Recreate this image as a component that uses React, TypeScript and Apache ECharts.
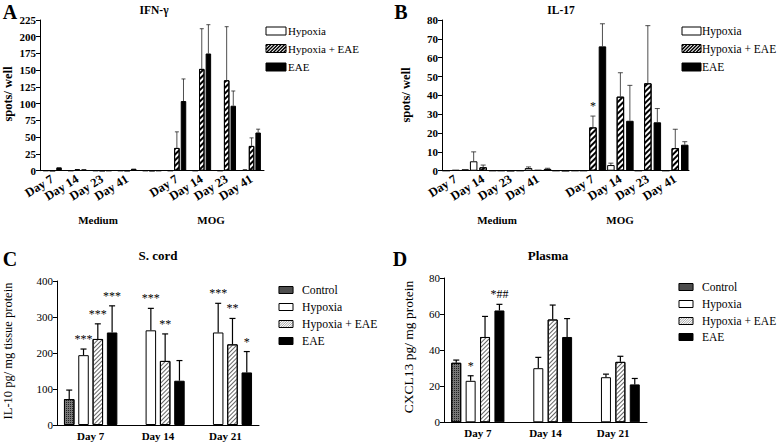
import React, { useEffect, useRef } from 'react';
import * as echarts from 'echarts';

const SERIF = 'Liberation Serif';

// ---- Panel A / B categories ----
const abCategories = ['Day 7', 'Day 14', 'Day 23', 'Day 41', '', 'Day 7', 'Day 14', 'Day 23', 'Day 41'];
const cdCategories = ['Day 7', 'Day 14', 'Day 21'];
const abLegend = ['Hypoxia', 'Hypoxia + EAE', 'EAE'];
const cdLegend = ['Control', 'Hypoxia', 'Hypoxia + EAE', 'EAE'];

// ---- Panel A: IFN-γ (spots/ well) ----
const aHypoxia = [0, 0, 0, 0, 0, 0, 0, 0, 1];
const aHypoxiaErr = [0, 0, 0, 0, 0, 0, 0, 0, 1.5];
const aHypEae = [0, 2, 0, 0, 0, 34, 152, 135, 37];
const aHypEaeErr = [0, 2, 0, 0, 0, 58, 212, 215, 49];
const aEae = [5, 2, 0, 3, 0, 104, 175, 97, 57];
const aEaeErr = [5, 2, 0, 3, 0, 137, 218, 119, 62];
const aYMax = 225;
const aYStep = 25;

// ---- Panel B: IL-17 (spots/ well) ----
const bHypoxia = [0, 5, 0, 1.4, 0, 0, 3, 0, 0];
const bHypoxiaErr = [0, 10, 0, 2, 0, 0, 4, 0, 0];
const bHypEae = [0.3, 1.8, 0, 0.3, 0, 23, 39.3, 46.4, 12];
const bHypEaeErr = [0.3, 3, 0, 0.3, 0, 29, 52, 77, 22];
const bEae = [0.7, 0, 0, 1, 0, 66, 26.5, 25.7, 13.8];
const bEaeErr = [0.7, 0, 0, 1.3, 0, 78, 45.3, 33, 15.4];
const bHypEaeStars = ['', '', '', '', '', '*', '', '', ''];
const bYMax = 80;
const bYStep = 10;

// ---- Panel C: S. cord IL-10 ----
const cControl = [72, null, null];
const cControlErr = [97, null, null];
const cHypoxia = [194, 263, 257];
const cHypoxiaErr = [211, 324, 338];
const cHypEae = [239, 178, 224];
const cHypEaeErr = [281, 253, 296];
const cEae = [257, 123, 146];
const cEaeErr = [331, 179, 204];
const cHypoxiaStars = ['***', '***', '***'];
const cHypEaeStars = ['***', '**', '**'];
const cEaeStars = ['***', '', '*'];
const cYMax = 400;
const cYStep = 100;

// ---- Panel D: Plasma CXCL13 ----
const dControl = [33, null, null];
const dControlErr = [34.5, null, null];
const dHypoxia = [23, 30, 25];
const dHypoxiaErr = [25.8, 36, 26.7];
const dHypEae = [47.3, 57, 33.5];
const dHypEaeErr = [58.7, 65, 36.6];
const dEae = [62, 47.3, 21];
const dEaeErr = [65.4, 57.5, 24.3];
const dHypoxiaStars = ['*', '', ''];
const dEaeStars = ['*##', '', ''];
const dYMax = 80;
const dYStep = 20;

// ---- styles ----
const hypStyle = { color: '#fff', borderColor: '#000', borderWidth: 1 };
const eaeStyle = { color: '#000', borderColor: '#000', borderWidth: 1 };
const boldHatch = {
  color: '#fff', borderColor: '#000', borderWidth: 1,
  decal: { symbol: 'rect', symbolSize: 1, dashArrayX: [1, 0], dashArrayY: [1.6, 1.6], rotation: -Math.PI / 4, color: '#000', backgroundColor: '#fff' },
};
const fineHatch = {
  color: '#fff', borderColor: '#000', borderWidth: 1,
  decal: { symbol: 'rect', symbolSize: 1, dashArrayX: [1, 0], dashArrayY: [0.8, 1.8], rotation: -Math.PI / 4, color: '#666', backgroundColor: '#fff' },
};
const controlStyle = {
  color: '#777', borderColor: '#000', borderWidth: 1,
  decal: { symbol: 'rect', symbolSize: 1, dashArrayX: [1, 1], dashArrayY: [1, 1], rotation: 0, color: '#222', backgroundColor: '#aaa' },
};

type Panel = {
  grid: { left: number; top: number; width: number; height: number };
  yMax: number; yStep: number; boldY: boolean; rotateX: number; xFont: number;
  barW: number; gapPx: number; cap: number; errColor: string; errW: number;
  series: { name: string; vals: (number | null)[]; errs: (number | null)[]; stars?: string[]; style: any }[];
  cats: string[];
};

const panels: Panel[] = [
  {
    grid: { left: 40, top: 20, width: 224, height: 150.7 },
    yMax: aYMax, yStep: aYStep, boldY: true, rotateX: 32, xFont: 12.5,
    barW: 5.5, gapPx: 1.1, cap: 4, errColor: '#222', errW: 0.8, cats: abCategories,
    series: [
      { name: abLegend[0], vals: aHypoxia, errs: aHypoxiaErr, style: hypStyle },
      { name: abLegend[1], vals: aHypEae, errs: aHypEaeErr, style: boldHatch },
      { name: abLegend[2], vals: aEae, errs: aEaeErr, style: eaeStyle },
    ],
  },
  {
    grid: { left: 442, top: 20, width: 247, height: 150.7 },
    yMax: bYMax, yStep: bYStep, boldY: true, rotateX: 32, xFont: 12.5,
    barW: 7.5, gapPx: 2, cap: 5, errColor: '#222', errW: 0.8, cats: abCategories,
    series: [
      { name: abLegend[0], vals: bHypoxia, errs: bHypoxiaErr, style: hypStyle },
      { name: abLegend[1], vals: bHypEae, errs: bHypEaeErr, stars: bHypEaeStars, style: boldHatch },
      { name: abLegend[2], vals: bEae, errs: bEaeErr, style: eaeStyle },
    ],
  },
  {
    grid: { left: 57, top: 281, width: 202, height: 144 },
    yMax: cYMax, yStep: cYStep, boldY: false, rotateX: 0, xFont: 11,
    barW: 10.5, gapPx: 3.8, cap: 6, errColor: '#000', errW: 1.2, cats: cdCategories,
    series: [
      { name: cdLegend[0], vals: cControl, errs: cControlErr, style: controlStyle },
      { name: cdLegend[1], vals: cHypoxia, errs: cHypoxiaErr, stars: cHypoxiaStars, style: hypStyle },
      { name: cdLegend[2], vals: cHypEae, errs: cHypEaeErr, stars: cHypEaeStars, style: fineHatch },
      { name: cdLegend[3], vals: cEae, errs: cEaeErr, stars: cEaeStars, style: eaeStyle },
    ],
  },
  {
    grid: { left: 444, top: 278, width: 203, height: 144.3 },
    yMax: dYMax, yStep: dYStep, boldY: false, rotateX: 0, xFont: 11,
    barW: 10, gapPx: 4.4, cap: 6, errColor: '#000', errW: 1.2, cats: cdCategories,
    series: [
      { name: cdLegend[0], vals: dControl, errs: dControlErr, style: controlStyle },
      { name: cdLegend[1], vals: dHypoxia, errs: dHypoxiaErr, stars: dHypoxiaStars, style: hypStyle },
      { name: cdLegend[2], vals: dHypEae, errs: dHypEaeErr, style: fineHatch },
      { name: cdLegend[3], vals: dEae, errs: dEaeErr, stars: dEaeStars, style: eaeStyle },
    ],
  },
];

const textStyle = (text: string, size: number, bold: boolean, align: string, extra: any = {}) => ({
  text, fill: '#000', fontFamily: SERIF, fontSize: size, fontWeight: bold ? 'bold' : 'normal',
  align, verticalAlign: 'middle', legacy: false, ...extra,
});

// diagonal hatch lines clipped to a rectangle; dir 1 = "/", -1 = "\"
function hatch(x0: number, y0: number, w: number, h: number, sp: number, color: string, lw: number, dir: number) {
  const out: any[] = [];
  if (dir === 1) {
    for (let c = x0 + y0 + sp / 2; c < x0 + w + y0 + h; c += sp) {
      const xa = Math.max(x0, c - y0 - h);
      const xb = Math.min(x0 + w, c - y0);
      if (xb <= xa) continue;
      out.push({ type: 'line', silent: true, shape: { x1: xa, y1: c - xa, x2: xb, y2: c - xb }, style: { stroke: color, lineWidth: lw } });
    }
  } else {
    for (let c = x0 - y0 - h + sp / 2; c < x0 + w - y0; c += sp) {
      const xa = Math.max(x0, c + y0);
      const xb = Math.min(x0 + w, c + y0 + h);
      if (xb <= xa) continue;
      out.push({ type: 'line', silent: true, shape: { x1: xa, y1: xa - c, x2: xb, y2: xb - c }, style: { stroke: color, lineWidth: lw } });
    }
  }
  return out;
}

function swatch(kind: string, x: number, y: number, w: number, h: number) {
  const els: any[] = [];
  const fill = kind === 'eae' ? '#000' : kind === 'control' ? '#8a8a8a' : '#fff';
  els.push({ type: 'rect', silent: true, shape: { x, y, width: w, height: h }, style: { fill, stroke: 'none' } });
  if (kind === 'bold') els.push(...hatch(x, y, w, h, 3.4, '#000', 1.5, 1));
  if (kind === 'fine') els.push(...hatch(x, y, w, h, 2.4, '#777', 0.7, 1));
  if (kind === 'control') {
    els.push(...hatch(x, y, w, h, 2, '#222', 0.7, 1));
    els.push(...hatch(x, y, w, h, 2, '#222', 0.7, -1));
  }
  els.push({ type: 'rect', silent: true, shape: { x, y, width: w, height: h }, style: { fill: 'none', stroke: '#000', lineWidth: 1 } });
  return els;
}

function legendBlock(names: string[], kinds: string[], x: number, ys: number[], w: number, h: number, tx: number, size: number) {
  const els: any[] = [];
  names.forEach((nm, i) => {
    els.push(...swatch(kinds[i], x, ys[i] - h / 2, w, h));
    els.push({ type: 'text', x: tx, y: ys[i], silent: true, style: textStyle(nm, size, false, 'left') });
  });
  return els;
}

function buildOption() {
  const grids: any[] = [];
  const xAxes: any[] = [];
  const yAxes: any[] = [];
  const series: any[] = [];
  panels.forEach((p, gi) => {
    grids.push({ ...p.grid, outerBoundsMode: 'none', containLabel: false });
    xAxes.push({
      type: 'category', gridIndex: gi, data: p.cats,
      axisLine: { lineStyle: { color: '#000', width: 1 } },
      axisTick: { alignWithLabel: true, length: 4, lineStyle: { color: '#000' } },
      axisLabel: {
        color: '#000', fontFamily: SERIF, fontWeight: 'bold', fontSize: p.xFont,
        rotate: p.rotateX, margin: p.rotateX ? 7 : 5, interval: 0,
      },
    });
    yAxes.push({
      type: 'value', gridIndex: gi, min: 0, max: p.yMax, interval: p.yStep,
      axisLine: { show: true, lineStyle: { color: '#000', width: 1 } },
      axisTick: { show: true, length: 4, lineStyle: { color: '#000' } },
      splitLine: { show: false },
      axisLabel: {
        color: '#000', fontFamily: SERIF, fontWeight: p.boldY ? 'bold' : 'normal',
        fontSize: 11, margin: 4,
      },
    });
    const n = p.series.length;
    const s = p.barW + p.gapPx;
    p.series.forEach((sr) => {
      series.push({
        type: 'bar', name: sr.name, data: sr.vals, xAxisIndex: gi, yAxisIndex: gi,
        barWidth: p.barW, barGap: (p.gapPx / p.barW) * 100 + '%',
        itemStyle: sr.style, silent: true,
      });
    });
    p.series.forEach((sr, si) => {
      const offset = (si - (n - 1) / 2) * s;
      const stars = sr.stars;
      const data: any[] = [];
      sr.vals.forEach((v, i) => {
        if (v != null) data.push([i, v, sr.errs[i] ?? v]);
      });
      series.push({
        type: 'custom', xAxisIndex: gi, yAxisIndex: gi, silent: true, z: 5,
        itemStyle: { color: '#000' },
        data,
        encode: { x: 0, y: [1, 2] },
        renderItem: (params: any, api: any) => {
          const i = api.value(0);
          const v = api.value(1);
          const e = api.value(2);
          const p0 = api.coord([i, v]);
          const p1 = api.coord([i, e]);
          const x = p0[0] + offset;
          const children: any[] = [];
          if (e > v) {
            children.push({ type: 'line', shape: { x1: x, y1: p0[1], x2: x, y2: p1[1] }, style: { stroke: p.errColor, lineWidth: p.errW } });
            children.push({ type: 'line', shape: { x1: x - p.cap / 2, y1: p1[1], x2: x + p.cap / 2, y2: p1[1] }, style: { stroke: p.errColor, lineWidth: p.errW } });
          }
          const st = stars ? stars[i] : '';
          if (st) {
            children.push({
              type: 'text',
              style: textStyle(st, 12, false, 'center', { x, y: p1[1] - 4, verticalAlign: 'bottom' }),
            });
          }
          return { type: 'group', children };
        },
      });
    });
  });

  const txt = (text: string, x: number, y: number, size: number, bold: boolean, rot = 0) => ({
    type: 'text', x, y, rotation: rot, silent: true, style: textStyle(text, size, bold, 'center'),
  });

  const graphic = [
    txt('A', 10, 12, 20, true),
    txt('B', 401, 12, 20, true),
    txt('C', 10, 259, 20, true),
    txt('D', 400, 259, 20, true),
    txt('IFN-γ', 154, 10, 11.5, true),
    txt('IL-17', 561, 10, 11.5, true),
    txt('S. cord', 158, 255, 13, true),
    txt('Plasma', 548, 255, 13, true),
    txt('Medium', 98, 220, 11, true),
    txt('MOG', 211, 220, 11, true),
    txt('Medium', 497, 220, 11, true),
    txt('MOG', 620, 220, 11, true),
    txt('spots/ well', 8, 94, 12.5, true, Math.PI / 2),
    txt('spots/ well', 406, 95, 12.5, true, Math.PI / 2),
    txt('IL-10 pg/ mg tissue protein', 8, 351, 12.5, false, Math.PI / 2),
    txt('CXCL13 pg/ mg protein', 408, 347, 13.5, false, Math.PI / 2),
    ...legendBlock(abLegend, ['hyp', 'bold', 'eae'], 266, [31, 48.5, 67], 20, 8, 288, 11),
    ...legendBlock(abLegend, ['hyp', 'bold', 'eae'], 682, [31, 48.5, 67], 19, 8, 702, 11.5),
    ...legendBlock(cdLegend, ['control', 'hyp', 'fine', 'eae'], 279, [290, 307, 324, 341], 14, 7, 302, 11.7),
    ...legendBlock(cdLegend, ['control', 'hyp', 'fine', 'eae'], 679, [287, 304, 321, 337], 14, 7, 702, 11.5),
  ];

  return {
    animation: false,
    backgroundColor: '#fff',
    textStyle: { fontFamily: SERIF },
    grid: grids,
    xAxis: xAxes,
    yAxis: yAxes,
    series,
    graphic,
  };
}

export default function App() {
  const ref = useRef<HTMLDivElement>(null);
  useEffect(() => {
    document.body.style.margin = '0';
    if (!ref.current) return;
    const chart = echarts.init(ref.current, undefined, { renderer: 'svg' });
    chart.setOption(buildOption() as any);
    return () => chart.dispose();
  }, []);
  return <div ref={ref} style={{ width: 778, height: 445 }} />;
}
